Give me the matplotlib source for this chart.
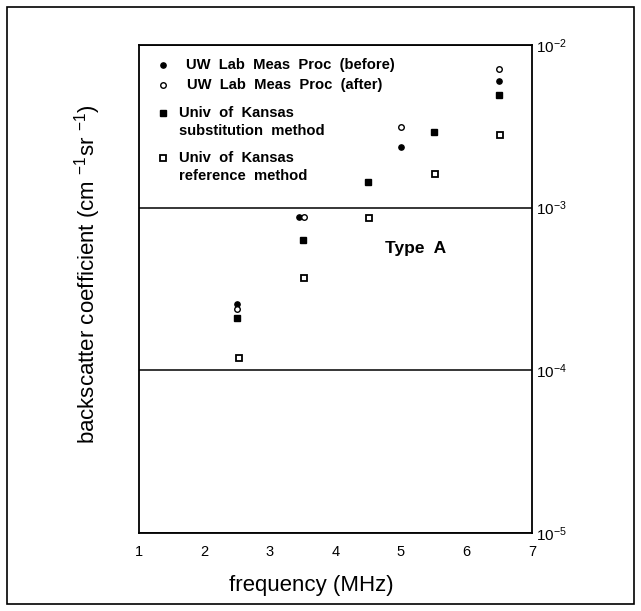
import numpy as np
import matplotlib
matplotlib.use('Agg')
import matplotlib.pyplot as plt
from matplotlib.patches import Rectangle

plt.rcParams['font.family'] = ['Liberation Sans', 'DejaVu Sans']
plt.rcParams['mathtext.fontset'] = 'custom'
plt.rcParams['mathtext.rm'] = 'Liberation Sans'
plt.rcParams['mathtext.it'] = 'Liberation Sans'

# data (frequency in MHz, backscatter coefficient)
uw_before_f = [2.5, 3.45, 5.0, 6.5]
uw_before_b = [2.54e-4, 8.7e-4, 2.36e-3, 6.0e-3]
uw_after_f = [2.5, 3.52, 5.0, 6.5]
uw_after_b = [2.37e-4, 8.7e-4, 3.13e-3, 7.1e-3]
ku_subst_f = [2.5, 3.5, 4.5, 5.5, 6.5]
ku_subst_b = [2.09e-4, 6.3e-4, 1.44e-3, 2.9e-3, 4.96e-3]
ku_ref_f = [2.52, 3.52, 4.52, 5.52, 6.52]
ku_ref_b = [1.19e-4, 3.68e-4, 8.6e-4, 1.62e-3, 2.79e-3]

xticks = [1, 2, 3, 4, 5, 6, 7]
yticks = [1e-5, 1e-4, 1e-3, 1e-2]
ytick_labels = [r'$10^{-5}$', r'$10^{-4}$', r'$10^{-3}$', r'$10^{-2}$']

fig = plt.figure(figsize=(6.41, 6.11), dpi=100)
ax = fig.add_axes([0.2168, 0.1277, 0.613, 0.7987])

# outer frame
fig.patches.append(Rectangle((0.011, 0.0115), 0.978, 0.977, transform=fig.transFigure,
                             fill=False, edgecolor='black', linewidth=1.2))

ax.plot(uw_before_f, uw_before_b, 'o', color='black', markersize=3.8, linestyle='none')
ax.plot(uw_after_f, uw_after_b, 'o', markerfacecolor='white', markeredgecolor='black',
        markeredgewidth=1.0, markersize=4.0, linestyle='none')
ax.plot(ku_subst_f, ku_subst_b, 's', color='black', markersize=5.0, linestyle='none')
ax.plot(ku_ref_f, ku_ref_b, 's', markerfacecolor='white', markeredgecolor='black',
        markeredgewidth=1.3, markersize=4.8, linestyle='none')

ax.set_yscale('log')
ax.set_xlim(1, 7)
ax.set_ylim(1e-5, 1e-2)
ax.set_xticks(xticks)
ax.set_xticklabels([str(t) for t in xticks])
ax.yaxis.tick_right()
ax.set_yticks(yticks)
ax.set_yticklabels(ytick_labels)
ax.yaxis.set_minor_locator(matplotlib.ticker.NullLocator())
ax.tick_params(axis='x', length=0, pad=9, labelsize=10.5)
ax.tick_params(axis='y', length=0, pad=3, labelsize=11)
ax.yaxis.grid(True, color='black', linewidth=1.1)
for s in ax.spines.values():
    s.set_linewidth(1.3)

ax.set_xlabel('frequency (MHz)', fontsize=16)
ax.xaxis.set_label_coords(0.438, -0.086)
ax.set_ylabel(r'backscatter coefficient (cm $^{-1}$sr $^{-1}$)', fontsize=16)
ax.yaxis.set_label_coords(-0.092, 0.53)

# hand-built key
key_font = dict(fontsize=10.6, fontweight='bold', transform=ax.transAxes, va='center')
ax.plot(0.061, 0.959, 'o', color='black', markersize=3.8, transform=ax.transAxes)
ax.text(0.120, 0.959, 'UW  Lab  Meas  Proc  (before)', **key_font)
ax.plot(0.061, 0.918, 'o', markerfacecolor='white', markeredgecolor='black',
        markersize=4.0, transform=ax.transAxes)
ax.text(0.123, 0.918, 'UW  Lab  Meas  Proc  (after)', **key_font)
ax.plot(0.061, 0.861, 's', color='black', markersize=5.0, transform=ax.transAxes)
ax.text(0.102, 0.8415, 'Univ  of  Kansas\nsubstitution  method', linespacing=1.35, **key_font)
ax.plot(0.061, 0.768, 's', markerfacecolor='white', markeredgecolor='black',
        markeredgewidth=1.3, markersize=4.8, transform=ax.transAxes)
ax.text(0.102, 0.75, 'Univ  of  Kansas\nreference  method', linespacing=1.35, **key_font)

ax.text(4.76, 5.6e-4, 'Type  A', fontsize=12.5, fontweight='bold', va='center')

fig.savefig('out.png', dpi=100)
